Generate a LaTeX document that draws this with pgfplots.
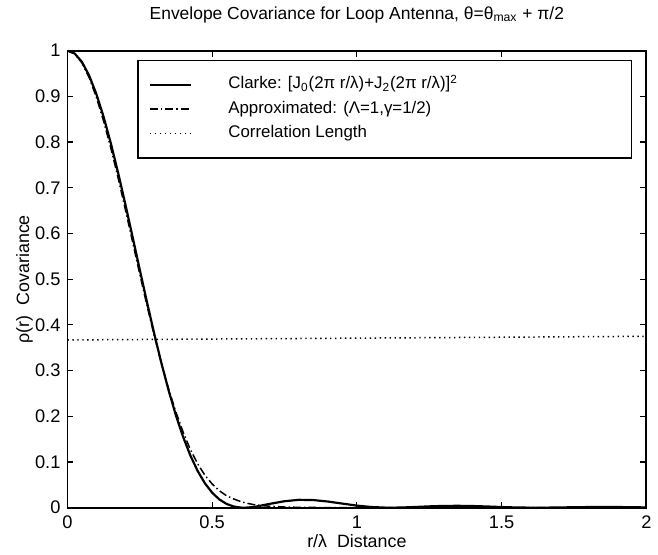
\documentclass[border=0pt]{standalone}
\usepackage{pgfplots}
\pgfplotsset{compat=1.18}
\usepackage{fontspec}
\setmainfont{Liberation Sans}

\begin{document}
\begin{tikzpicture}[font=\fontsize{8.5}{10.2}\selectfont]
\begin{axis}[
    name=ax,
    scale only axis,
    width=292pt, height=230.5pt,
    xmin=0, xmax=2, ymin=0, ymax=1,
    xtick={0,0.5,1,1.5,2},
    ytick={0,0.1,0.2,0.3,0.4,0.5,0.6,0.7,0.8,0.9,1},
    tick align=inside,
    major tick length=3pt,
    tick style={black, line width=0.6pt},
    axis line style={line width=0.9pt},
    /pgf/number format/assume math mode=true,
    ticklabel style={font=\fontsize{9.2}{11}\selectfont},
    xticklabel style={yshift=-0.5pt},
    title={Envelope Covariance for Loop Antenna, θ=θ\textsubscript{max} + π/2},
    title style={at={(axis description cs:0.5,1)}, anchor=south, yshift=4.5pt,
                 font=\fontsize{8.8}{10.5}\selectfont},
    xlabel={r/λ\ \ Distance},
    xlabel style={at={(axis description cs:0.5,-0.074)}, anchor=center,
                  font=\fontsize{9}{11}\selectfont},
    ylabel={ρ(r)\ \ Covariance},
    ylabel style={at={(axis description cs:-0.074,0.5)}, anchor=center,
                  font=\fontsize{9}{11}\selectfont},
    legend cell align=left,
    legend image code/.code={
        \draw[#1] (0pt,0pt) -- (20.5pt,0pt);
        \path[draw=none] (0pt,0pt) -- (38.5pt,0pt);
    },
    legend style={
        at={(axis description cs:0.976,0.9805)}, anchor=north east,
        draw=black, line width=0.6pt,
        inner xsep=5.5pt, inner ysep=7pt,
        row sep=1.45pt,
        nodes={inner sep=1pt, text height=6.5pt, text depth=2.3pt},
    },
]
% Clarke
\addplot[black, line width=1.1pt] coordinates {
(0,1) (0.025,0.99385) (0.05,0.97558) (0.075,0.94575) (0.1,0.90527)
(0.125,0.85535) (0.15,0.79745) (0.175,0.73324) (0.2,0.66451)
(0.225,0.59311) (0.25,0.52085) (0.275,0.44950) (0.3,0.38064)
(0.325,0.31568) (0.35,0.25577) (0.375,0.20181) (0.4,0.15440)
(0.425,0.11387) (0.45,0.08027) (0.475,0.05339) (0.5,0.03283)
(0.525,0.01799) (0.55,0.00815) (0.575,0.00249) (0.6,0.00018)
(0.61,0) (0.625,0.00036) (0.65,0.00223) (0.7,0.00846) (0.75,0.01413)
(0.8,0.01721) (0.85,0.01666) (0.9,0.01345) (0.95,0.00893)
(1.0,0.00454) (1.05,0.00146) (1.1,0.00008) (1.117,0) (1.15,0.00029)
(1.2,0.00147) (1.25,0.00287) (1.3,0.00388) (1.35,0.00410)
(1.4,0.00361) (1.45,0.00260) (1.5,0.00141) (1.55,0.00048)
(1.6,0.00004) (1.62,0) (1.65,0.00008) (1.7,0.00046) (1.75,0.00103)
(1.8,0.00136) (1.85,0.00158) (1.9,0.00142) (1.95,0.00101) (2.0,0.00059)
};
\addlegendentry{\makebox[197pt][l]{Clarke: [J\textsubscript{0}(2π r/λ)+J\textsubscript{2}(2π r/λ)]\textsuperscript{2}}}
% Approximated
\addplot[black, line width=0.75pt, dash pattern=on 4pt off 1.5pt on 0.7pt off 1.5pt] coordinates {
(0,1) (0.025,0.9935) (0.05,0.9735) (0.075,0.9415) (0.1,0.898)
(0.125,0.846) (0.15,0.787) (0.175,0.722) (0.2,0.653)
(0.225,0.582) (0.25,0.511) (0.275,0.442) (0.3,0.377)
(0.325,0.315) (0.35,0.259) (0.375,0.209) (0.4,0.165)
(0.425,0.127) (0.45,0.096) (0.475,0.071) (0.5,0.052)
(0.525,0.037) (0.55,0.026) (0.575,0.019) (0.6,0.013)
(0.625,0.009) (0.65,0.006) (0.7,0.003) (0.75,0.0015)
(0.8,0.0007) (0.9,0.0002) (1.0,0.0001) (1.5,0) (2,0)
};
\addlegendentry{Approximated: (Λ=1,γ=1/2)}
% Correlation length
\addplot[black, line width=0.75pt, dash pattern=on 0.7pt off 1.8pt] coordinates {
(0,0.367) (2,0.375)
};
\addlegendentry{Correlation Length}
\end{axis}
% page margins as in the scanned figure
\path (ax.south west) ++(-34pt,-20.5pt) coordinate (bl);
\path (ax.north east) ++(3pt,24pt) coordinate (tr);
\path (bl) rectangle (tr);
\end{tikzpicture}
\end{document}
